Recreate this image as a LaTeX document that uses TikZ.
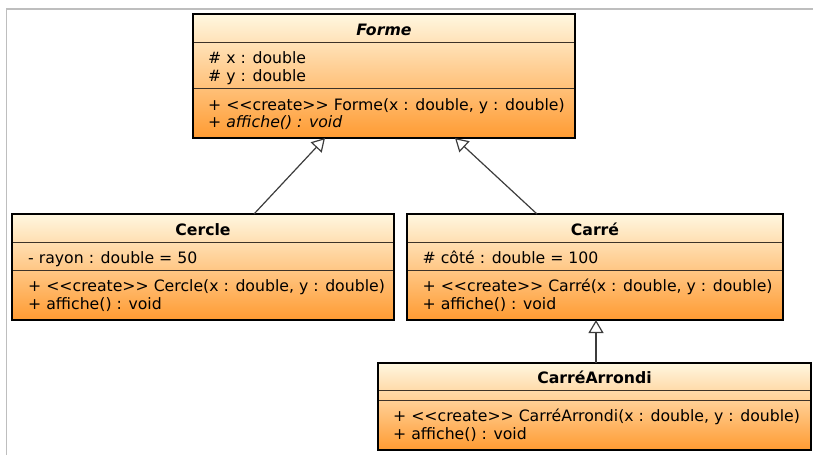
\documentclass[tikz,border=0pt]{standalone}
\usepackage{fontspec}
\setmainfont{DejaVu Sans}
\usetikzlibrary{arrows.meta}
\definecolor{gtop}{RGB}{255,247,224}
\definecolor{gbot}{RGB}{255,155,50}
\definecolor{divc}{RGB}{60,50,40}
\definecolor{linec}{RGB}{60,60,60}
\definecolor{framec}{RGB}{190,190,190}
\newcommand{\crt}{<\kern0pt<create>\kern0pt>}
\begin{document}
\begin{tikzpicture}[x=1pt,y=-1pt,
  umlbox/.style={draw=black, line width=2.4pt, top color=gtop, bottom color=gbot, inner sep=0pt, outer sep=0pt},
  divider/.style={draw=divc, line width=1pt},
  txt/.style={anchor=base west, inner sep=0pt, font=\fontsize{15.7}{17}\selectfont},
  ttl/.style={anchor=base, inner sep=0pt, font=\fontsize{15.7}{17}\selectfont\bfseries},
  inh/.style={draw=linec, line width=1.2pt, -{Triangle[open, length=13pt, width=15pt, line width=1.2pt]}}
]
\useasboundingbox (0,0) rectangle (813,455);
\draw[framec, line width=1.3pt] (6.3,455) -- (6.3,9) -- (813,9);

% Forme
\node[umlbox, minimum width=382pt, minimum height=124pt] (forme) at (384,76) {};
\draw[divider] (forme.west |- 0,42) -- (forme.east |- 0,42);
\draw[divider] (forme.west |- 0,88) -- (forme.east |- 0,88);
\draw[black, line width=2.4pt] (forme.south west) rectangle (forme.north east);
\node[ttl] (formeT) at (384,35) {\itshape Forme};
\node[txt] (formeA1) at (208,63.3) {\# x : double};
\node[txt] (formeA2) at (208,81) {\# y : double};
\node[txt] (formeM1) at (208,110) {+ \crt{} Forme(x : double, y : double)};
\node[txt] (formeM2) at (208,127.3) {+ \textit{affiche() : void}};

% Cercle
\node[umlbox, minimum width=382pt, minimum height=106pt] (cercle) at (203,267) {};
\draw[divider] (cercle.west |- 0,242) -- (cercle.east |- 0,242);
\draw[divider] (cercle.west |- 0,270) -- (cercle.east |- 0,270);
\draw[black, line width=2.4pt] (cercle.south west) rectangle (cercle.north east);
\node[ttl] (cercleT) at (203,235) {Cercle};
\node[txt] (cercleA1) at (28,263.3) {- rayon : double = 50};
\node[txt] (cercleM1) at (28,291.7) {+ \crt{} Cercle(x : double, y : double)};
\node[txt] (cercleM2) at (28,309.3) {+ affiche() : void};

% Carre
\node[umlbox, minimum width=376pt, minimum height=106pt] (carre) at (595,267) {};
\draw[divider] (carre.west |- 0,242) -- (carre.east |- 0,242);
\draw[divider] (carre.west |- 0,270) -- (carre.east |- 0,270);
\draw[black, line width=2.4pt] (carre.south west) rectangle (carre.north east);
\node[ttl] (carreT) at (595,235) {Carré};
\node[txt] (carreA1) at (422.5,263.3) {\# côté : double = 100};
\node[txt] (carreM1) at (422.5,291.7) {+ \crt{} Carré(x : double, y : double)};
\node[txt] (carreM2) at (422.5,309.3) {+ affiche() : void};

% CarreArrondi
\node[umlbox, minimum width=433pt, minimum height=87pt] (carrearr) at (594.5,406.5) {};
\draw[divider] (carrearr.west |- 0,390) -- (carrearr.east |- 0,390);
\draw[divider] (carrearr.west |- 0,400) -- (carrearr.east |- 0,400);
\draw[black, line width=2.4pt] (carrearr.south west) rectangle (carrearr.north east);
\node[ttl] (carrearrT) at (594.5,383.3) {CarréArrondi};
\node[txt] (carrearrM1) at (393,421.7) {+ \crt{} CarréArrondi(x : double, y : double)};
\node[txt] (carrearrM2) at (393,439.3) {+ affiche() : void};

% inheritance
\draw[inh] ([xshift=51pt]cercle.north) -- ([xshift=-59pt]forme.south);
\draw[inh] ([xshift=-58pt]carre.north) -- ([xshift=71pt]forme.south);
\draw[inh] ([xshift=1.5pt]carrearr.north) -- ([xshift=1.5pt]carrearr.north |- carre.south);
\end{tikzpicture}
\end{document}
